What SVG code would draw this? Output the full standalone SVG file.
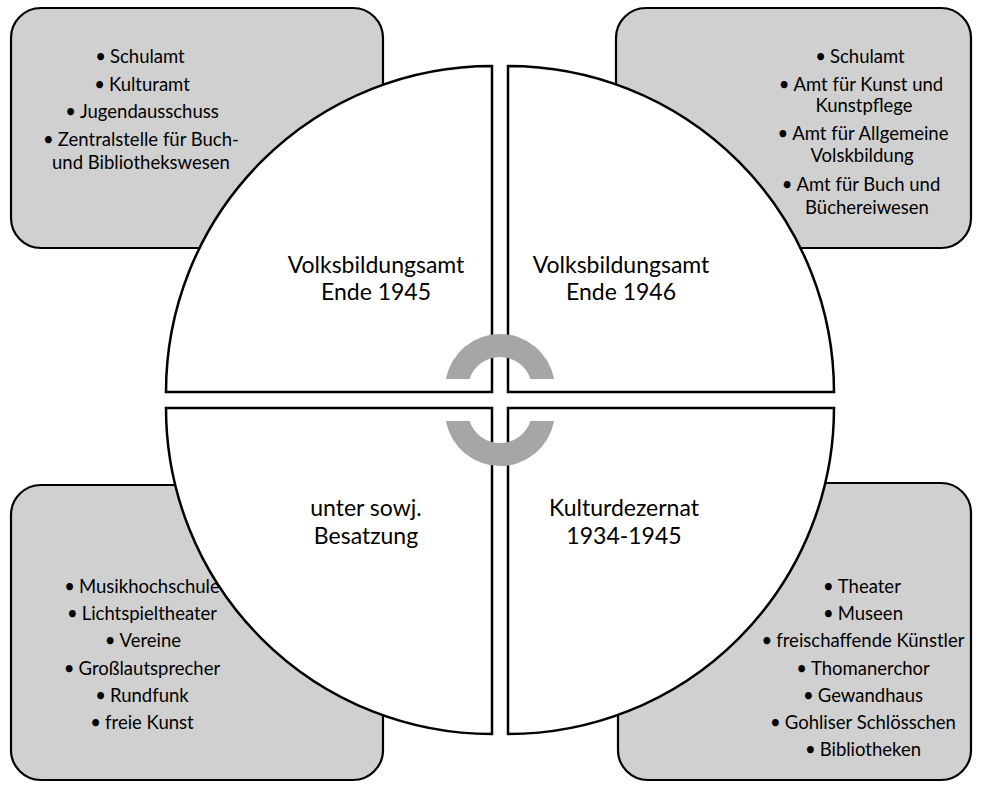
<svg xmlns="http://www.w3.org/2000/svg" width="981" height="789" viewBox="0 0 981 789">
<style>
.box{fill:#d0d0d0;stroke:#000;stroke-width:2.2}
.quad{fill:#fff;stroke:#000;stroke-width:2.5;stroke-linejoin:miter}
.arc{fill:#a6a6a6;stroke:none}
.t{font-family:Lato,"Liberation Sans",sans-serif;font-size:18.5px;fill:#000;text-anchor:middle}
.ts{font-family:Lato,"Liberation Sans",sans-serif;font-size:18.5px;fill:#000;text-anchor:start}
.q{font-family:Lato,"Liberation Sans",sans-serif;font-size:23px;fill:#000;text-anchor:middle}
</style>
<rect width="981" height="789" fill="#fff"/>
<g id="box-tl"><rect class="box" x="11" y="8" width="372" height="240" rx="30"/></g>
<g id="box-tr"><rect class="box" x="616" y="8" width="355" height="240" rx="30"/></g>
<g id="box-bl"><rect class="box" x="11" y="485" width="372" height="295" rx="30"/></g>
<g id="box-br"><rect class="box" x="618" y="483" width="353" height="297" rx="30"/></g>

<g id="quad-tl"><path class="quad" d="M492,392 L166,392 A326,326 0 0 1 492,66 Z"/>
<text class="q" x="376" y="273">Volksbildungsamt</text><text class="q" x="376" y="300">Ende 1945</text></g>
<g id="quad-tr"><path class="quad" d="M508,392 L508,66 A326,326 0 0 1 834,392 Z"/>
<text class="q" x="621" y="273">Volksbildungsamt</text><text class="q" x="621" y="300">Ende 1946</text></g>
<g id="quad-bl"><path class="quad" d="M492,408 L492,734 A326,326 0 0 1 166,408 Z"/>
<text class="q" x="366" y="516">unter sowj.</text><text class="q" x="366" y="544">Besatzung</text></g>
<g id="quad-br"><path class="quad" d="M508,408 L834,408 A326,326 0 0 1 508,734 Z"/>
<text class="q" x="624" y="516">Kulturdezernat</text><text class="q" x="624" y="544">1934-1945</text></g>

<g id="connectors">
<path class="arc" d="M445.9,379 A55,55 0 0 1 554.1,379 L530.4,379 A32,32 0 0 0 469.6,379 Z"/>
<path class="arc" d="M445.9,421 A55,55 0 0 0 554.1,421 L530.4,421 A32,32 0 0 1 469.6,421 Z"/>
</g>

<g id="box-tl-text">
<text class="t" x="140" y="63">•<tspan dx="4">Schulamt</tspan></text>
<text class="t" x="142" y="91">•<tspan dx="4">Kulturamt</tspan></text>
<text class="t" x="142" y="118">•<tspan dx="4">Jugendausschuss</tspan></text>
<text class="t" x="141" y="146">•<tspan dx="4">Zentralstelle für Buch-</tspan></text>
<text class="ts" x="52" y="169">und Bibliothekswesen</text>
</g>
<g id="box-tr-text">
<text class="t" x="860" y="63">•<tspan dx="4">Schulamt</tspan></text>
<text class="t" x="861" y="91">•<tspan dx="4">Amt für Kunst und</tspan></text>
<text class="t" x="864" y="112">Kunstpflege</text>
<text class="t" x="863" y="140">•<tspan dx="4">Amt für Allgemeine</tspan></text>
<text class="t" x="862" y="162">Volskbildung</text>
<text class="t" x="861" y="191">•<tspan dx="4">Amt für Buch und</tspan></text>
<text class="t" x="867" y="214">Büchereiwesen</text>
</g>
<g id="box-bl-text">
<text class="t" x="142" y="593">•<tspan dx="4">Musikhochschule</tspan></text>
<text class="t" x="142" y="620">•<tspan dx="4">Lichtspieltheater</tspan></text>
<text class="t" x="143" y="647">•<tspan dx="4">Vereine</tspan></text>
<text class="t" x="142" y="675">•<tspan dx="4">Großlautsprecher</tspan></text>
<text class="t" x="142" y="702">•<tspan dx="4">Rundfunk</tspan></text>
<text class="t" x="142" y="729">•<tspan dx="4">freie Kunst</tspan></text>
</g>
<g id="box-br-text">
<text class="t" x="862" y="593">•<tspan dx="4">Theater</tspan></text>
<text class="t" x="863" y="620">•<tspan dx="4">Museen</tspan></text>
<text class="t" x="863" y="647">•<tspan dx="4">freischaffende Künstler</tspan></text>
<text class="t" x="863" y="675">•<tspan dx="4">Thomanerchor</tspan></text>
<text class="t" x="863" y="702">•<tspan dx="4">Gewandhaus</tspan></text>
<text class="t" x="863" y="729">•<tspan dx="4">Gohliser Schlösschen</tspan></text>
<text class="t" x="863" y="756">•<tspan dx="4">Bibliotheken</tspan></text>
</g>
</svg>
